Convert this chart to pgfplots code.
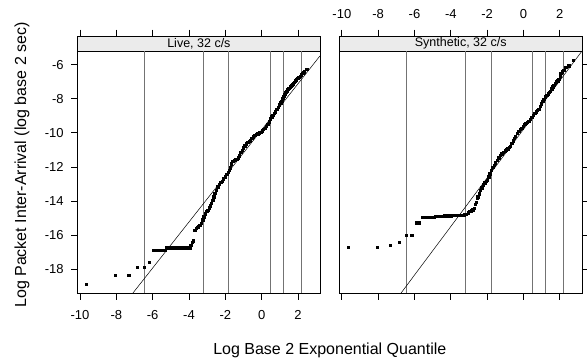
\documentclass[border=0pt]{standalone}
\usepackage{fontspec}
\setmainfont{Liberation Sans}
\usepackage{pgfplots}
\usepackage{pgfplotstable}
\pgfplotsset{compat=1.18}
\definecolor{stripgray}{gray}{0.92}
\definecolor{refgray}{gray}{0.45}

\pgfplotstableread{
x y
-9.65 -18.88
-8.06 -18.35
-7.32 -18.35
-6.86 -17.88
-6.48 -17.88
-6.19 -17.59
-5.98 -16.89
-5.85 -16.89
-5.72 -16.89
-5.59 -16.89
-5.46 -16.89
-5.33 -16.89
-5.25 -16.73
-5.15 -16.73
-5.05 -16.73
-4.95 -16.73
-4.85 -16.73
-4.75 -16.73
-4.65 -16.73
-4.55 -16.73
-4.45 -16.73
-4.35 -16.73
-4.25 -16.73
-4.15 -16.73
-4.05 -16.73
-3.96 -16.73
-3.91 -16.58
-3.82 -16.40
-3.78 -16.32
-3.69 -15.70
-3.62 -15.60
-3.55 -15.55
-3.48 -15.50
-3.40 -15.40
-3.32 -15.30
-3.25 -15.10
-3.18 -14.91
-3.10 -14.75
-3.02 -14.60
-2.96 -14.52
-2.90 -14.40
-2.84 -14.28
-2.77 -14.13
-2.70 -13.95
-2.64 -13.75
-2.58 -13.55
-2.50 -13.35
-2.42 -13.15
-2.34 -13.00
-2.26 -12.90
-2.18 -12.82
-2.11 -12.70
-2.02 -12.57
-1.93 -12.43
-1.85 -12.30
-1.78 -12.20
-1.72 -12.05
-1.66 -11.80
-1.60 -11.65
-1.52 -11.60
-1.44 -11.58
-1.38 -11.55
-1.30 -11.45
-1.22 -11.35
-1.15 -11.15
-1.08 -11.00
-1.01 -10.87
-0.93 -10.75
-0.85 -10.64
-0.77 -10.55
-0.70 -10.50
-0.62 -10.45
-0.54 -10.33
-0.46 -10.22
-0.38 -10.15
-0.30 -10.08
-0.22 -10.04
-0.14 -10.00
-0.06 -9.95
0.02 -9.88
0.10 -9.80
0.18 -9.72
0.26 -9.62
0.34 -9.50
0.41 -9.35
0.48 -9.18
0.55 -9.05
0.62 -8.95
0.69 -8.85
0.76 -8.75
0.83 -8.62
0.90 -8.48
0.97 -8.36
1.04 -8.22
1.10 -8.13
1.16 -7.98
1.22 -7.85
1.28 -7.72
1.33 -7.62
1.38 -7.54
1.44 -7.45
1.50 -7.38
1.56 -7.30
1.62 -7.24
1.68 -7.18
1.74 -7.12
1.80 -7.03
1.86 -6.95
1.92 -6.88
1.98 -6.80
2.04 -6.73
2.11 -6.66
2.18 -6.58
2.25 -6.50
2.29 -6.47
2.36 -6.42
2.48 -6.27
}\livedata

\pgfplotstableread{
x y
-9.65 -16.71
-8.07 -16.71
-7.34 -16.59
-6.84 -16.42
-6.47 -16.01
-6.16 -16.01
-5.92 -15.27
-5.74 -15.27
-5.55 -14.95
-5.42 -14.95
-5.30 -14.95
-5.18 -14.95
-5.05 -14.95
-4.93 -14.95
-4.85 -14.90
-4.77 -14.90
-4.69 -14.89
-4.61 -14.89
-4.53 -14.88
-4.45 -14.88
-4.37 -14.87
-4.29 -14.87
-4.21 -14.86
-4.13 -14.86
-4.05 -14.85
-3.97 -14.85
-3.89 -14.84
-3.81 -14.84
-3.73 -14.83
-3.65 -14.83
-3.57 -14.83
-3.49 -14.82
-3.41 -14.82
-3.33 -14.82
-3.25 -14.81
-3.16 -14.76
-3.05 -14.68
-2.96 -14.60
-2.89 -14.56
-2.80 -14.50
-2.70 -14.42
-2.65 -14.20
-2.61 -14.05
-2.56 -13.85
-2.52 -13.74
-2.45 -13.58
-2.37 -13.38
-2.30 -13.22
-2.22 -13.05
-2.14 -12.92
-2.06 -12.82
-2.00 -12.76
-1.91 -12.57
-1.85 -12.40
-1.78 -12.18
-1.70 -12.02
-1.62 -11.88
-1.54 -11.74
-1.45 -11.59
-1.36 -11.45
-1.28 -11.32
-1.20 -11.22
-1.11 -11.12
-1.02 -11.05
-0.94 -10.98
-0.86 -10.92
-0.78 -10.84
-0.72 -10.77
-0.64 -10.62
-0.56 -10.45
-0.50 -10.30
-0.44 -10.18
-0.35 -10.02
-0.26 -9.89
-0.18 -9.80
-0.10 -9.72
-0.02 -9.62
0.06 -9.50
0.13 -9.42
0.21 -9.36
0.29 -9.30
0.37 -9.20
0.45 -9.08
0.53 -8.98
0.61 -8.86
0.69 -8.76
0.76 -8.66
0.84 -8.60
0.92 -8.45
0.98 -8.30
1.05 -8.15
1.12 -8.03
1.21 -7.88
1.28 -7.79
1.35 -7.70
1.42 -7.62
1.49 -7.54
1.56 -7.42
1.62 -7.30
1.67 -7.20
1.74 -7.08
1.81 -7.00
1.88 -6.93
1.95 -6.86
2.01 -6.65
2.06 -6.50
2.14 -6.42
2.22 -6.32
2.32 -6.15
2.50 -6.05
2.74 -5.73
}\synthdata

\pgfplotsset{panel/.style={
  scale only axis, width=242.4pt, height=257.3pt,
  xmin=-10.13, xmax=3.22, ymin=-19.41, ymax=-4.32,
  xtick={-10,-8,-6,-4,-2,0,2},
  ytick={-18,-16,-14,-12,-10,-8,-6},
  tick align=outside, major tick length=6.5pt,
  axis line style={line width=0.8pt},
  every tick/.style={black,line width=0.8pt},
  tick label style={font=\fontsize{13}{15}\selectfont},
  axis on top,
}}

\begin{document}
\begin{tikzpicture}
\path[use as bounding box] (0,0) rectangle (587pt,360pt);

\begin{axis}[panel, at={(77.7pt,66.7pt)}, anchor=south west,
  xtick pos=both, xticklabel pos=lower,
  xticklabels={-10,-8,-6,-4,-2,0,2},
  xticklabel style={yshift=-7pt},
  ytick pos=left,
  yticklabels={-18,-16,-14,-12,-10,-8,-6},
  yticklabel style={xshift=-4pt}]
\fill[stripgray] (axis cs:-10.13,-5.2) rectangle (axis cs:3.22,-4.32);
\draw[line width=0.8pt] (axis cs:-10.13,-5.2) -- (axis cs:3.22,-5.2);
\node at (axis cs:-3.455,-4.76) {\fontsize{12.5}{14}\selectfont Live, 32 c/s};
\addplot[refgray, line width=0.7pt] coordinates {(-6.47,-19.41) (-6.47,-5.2)};
\addplot[refgray, line width=0.7pt] coordinates {(-3.23,-19.41) (-3.23,-5.2)};
\addplot[refgray, line width=0.7pt] coordinates {(-1.81,-19.41) (-1.81,-5.2)};
\addplot[refgray, line width=0.7pt] coordinates {(0.47,-19.41) (0.47,-5.2)};
\addplot[refgray, line width=0.7pt] coordinates {(1.20,-19.41) (1.20,-5.2)};
\addplot[refgray, line width=0.7pt] coordinates {(2.19,-19.41) (2.19,-5.2)};
\addplot[black, line width=0.5pt] coordinates {(-7.10,-19.41) (3.21,-5.49)};
\addplot[only marks, mark=square*, mark size=1.2pt, black] table {\livedata};
\end{axis}

\begin{axis}[panel, at={(339.5pt,66.7pt)}, anchor=south west,
  xticklabel pos=upper, xtick pos=both,
  xticklabels={-10,-8,-6,-4,-2,0,2},
  xticklabel style={yshift=7pt},
  ytick pos=right, yticklabels={}]
\fill[stripgray] (axis cs:-10.13,-5.2) rectangle (axis cs:3.22,-4.32);
\draw[line width=0.8pt] (axis cs:-10.13,-5.2) -- (axis cs:3.22,-5.2);
\node at (axis cs:-3.455,-4.76) {\fontsize{12.5}{14}\selectfont Synthetic, 32 c/s};
\addplot[refgray, line width=0.7pt] coordinates {(-6.45,-19.41) (-6.45,-5.2)};
\addplot[refgray, line width=0.7pt] coordinates {(-3.22,-19.41) (-3.22,-5.2)};
\addplot[refgray, line width=0.7pt] coordinates {(-1.79,-19.41) (-1.79,-5.2)};
\addplot[refgray, line width=0.7pt] coordinates {(0.49,-19.41) (0.49,-5.2)};
\addplot[refgray, line width=0.7pt] coordinates {(1.22,-19.41) (1.22,-5.2)};
\addplot[refgray, line width=0.7pt] coordinates {(2.19,-19.41) (2.19,-5.2)};
\addplot[black, line width=0.5pt] coordinates {(-6.75,-19.41) (3.19,-5.25)};
\addplot[only marks, mark=square*, mark size=1.2pt, black] table {\synthdata};
\end{axis}

\node[font=\fontsize{16}{19}\selectfont] at (329.8pt,9.3pt) {Log Base 2 Exponential Quantile};
\node[font=\fontsize{16}{19}\selectfont, rotate=90] at (22pt,195pt) {Log Packet Inter-Arrival (log base 2 sec)};
\end{tikzpicture}
\end{document}
